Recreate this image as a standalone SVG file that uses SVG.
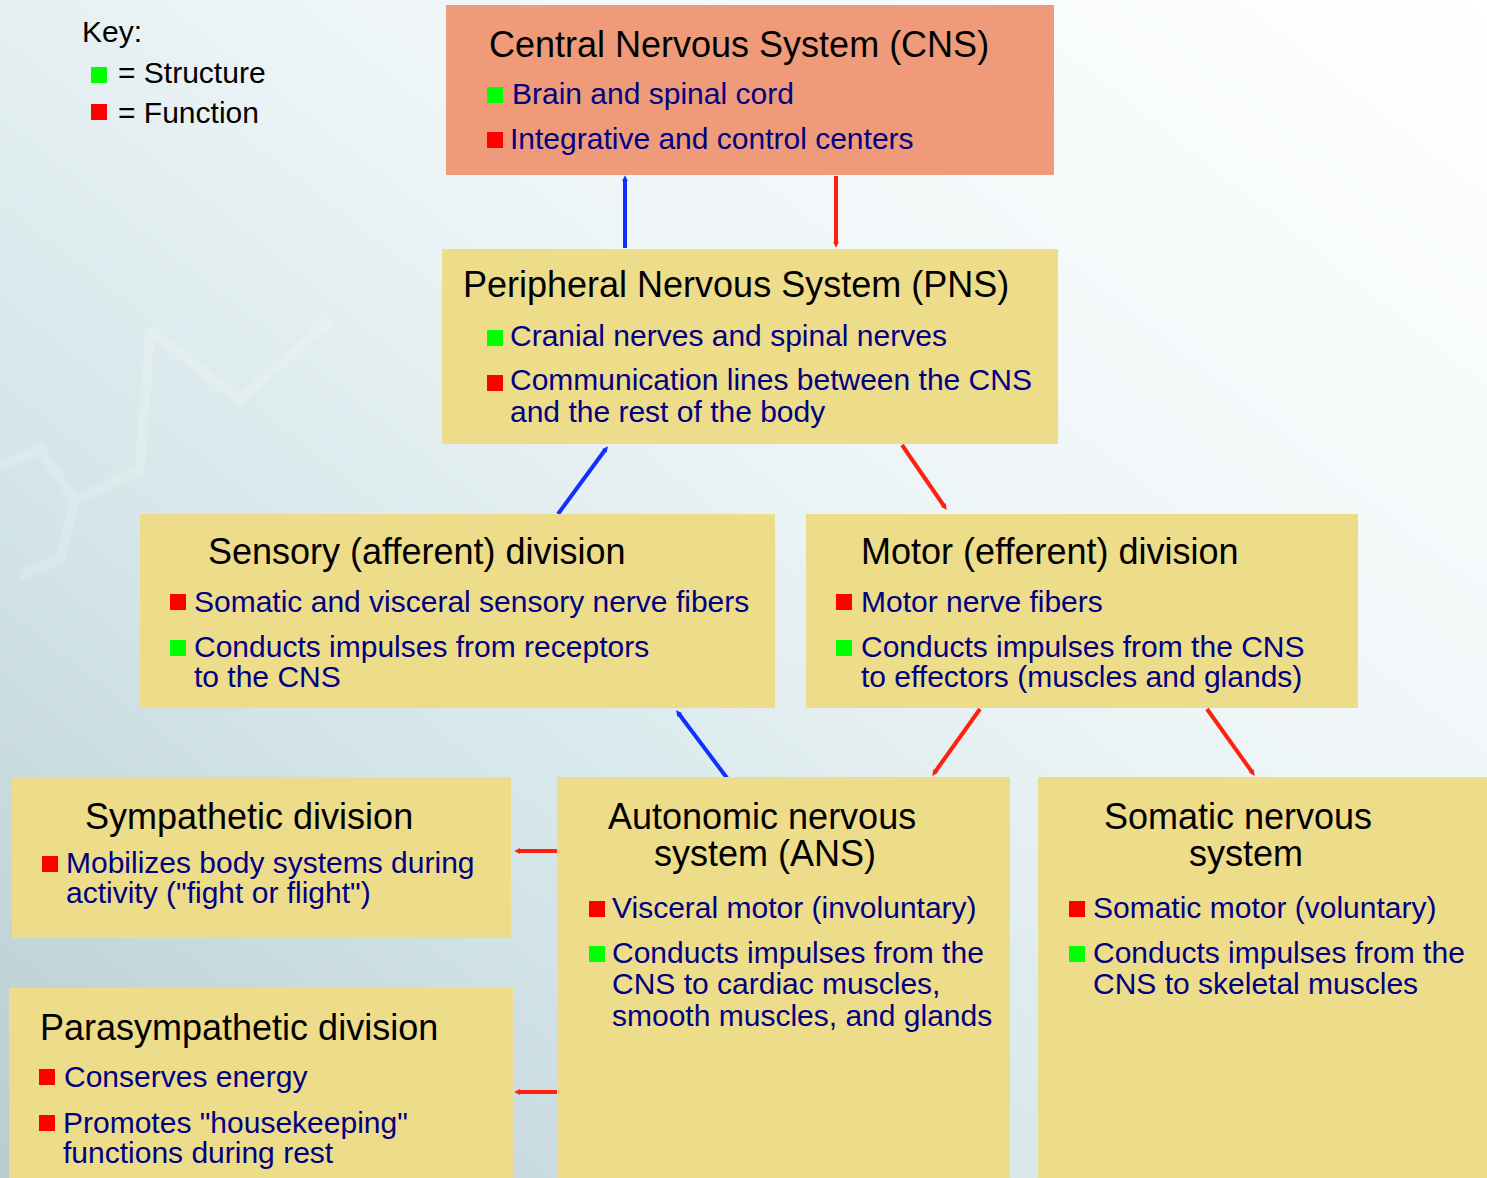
<svg xmlns="http://www.w3.org/2000/svg" width="1487" height="1178" viewBox="0 0 1487 1178">
<defs>
<linearGradient id="bg" x1="0" y1="1" x2="1" y2="0">
<stop offset="0" stop-color="#b9ccd0"/>
<stop offset="0.3" stop-color="#d3e5e8"/>
<stop offset="0.6" stop-color="#eef5f7"/>
<stop offset="1" stop-color="#ffffff"/>
</linearGradient>
<marker id="ab" viewBox="0 0 10 10" refX="2" refY="5" markerWidth="1.5" markerHeight="1.5" orient="auto" markerUnits="strokeWidth">
<path d="M0,0 L10,5 L0,10 z" fill="#1030ff"/>
</marker>
<marker id="ar" viewBox="0 0 10 10" refX="2" refY="5" markerWidth="1.5" markerHeight="1.5" orient="auto" markerUnits="strokeWidth">
<path d="M0,0 L10,5 L0,10 z" fill="#ff2010"/>
</marker>
</defs>
<style>
text{font-family:"Liberation Sans",Arial,sans-serif}
.t{font-size:36px;fill:#000}
.b{font-size:30px;fill:#000080}
.k{font-size:30px;fill:#000}
.box{fill:#eddc8a}
.cns{fill:#ef9b79}
.g{fill:#00ff00}
.r{fill:#ff0000}
.cb{stroke:#1030ff;stroke-width:4;fill:none}
.cr{stroke:#ff2010;stroke-width:4;fill:none}
</style>
<rect x="0" y="0" width="1487" height="1178" fill="url(#bg)"/>
<g opacity="0.18" stroke="#ffffff" stroke-width="10" fill="none">
<path d="M0,465 L40,450 L75,500 L60,560 L20,575"/>
<path d="M75,500 L140,470 L150,330"/>
<path d="M150,330 L240,400 L330,320"/>
</g>

<g id="key">
<text class="k" x="82" y="42">Key:</text>
<rect class="g" x="91" y="67" width="16" height="16"/>
<text class="k" x="118" y="83">= Structure</text>
<rect class="r" x="91" y="104" width="16" height="16"/>
<text class="k" x="118" y="123">= Function</text>
</g>

<g id="connectors">
<line class="cb" x1="625" y1="248" x2="625" y2="180" marker-end="url(#ab)"/>
<line class="cr" x1="836" y1="176" x2="836" y2="243" marker-end="url(#ar)"/>
<line class="cb" x1="558" y1="514" x2="605" y2="450" marker-end="url(#ab)"/>
<line class="cr" x1="902" y1="445" x2="944" y2="506" marker-end="url(#ar)"/>
<line class="cb" x1="727" y1="778" x2="679" y2="714" marker-end="url(#ab)"/>
<line class="cr" x1="980" y1="709" x2="935" y2="772" marker-end="url(#ar)"/>
<line class="cr" x1="1207" y1="709" x2="1252" y2="772" marker-end="url(#ar)"/>
<line class="cr" x1="557" y1="851" x2="519" y2="851" marker-end="url(#ar)"/>
<line class="cr" x1="557" y1="1092" x2="519" y2="1092" marker-end="url(#ar)"/>
</g>

<g id="cns">
<rect class="cns" x="446" y="5" width="608" height="170"/>
<text class="t" x="489" y="57">Central Nervous System (CNS)</text>
<rect class="g" x="487" y="87" width="16" height="16"/>
<text class="b" x="512" y="104">Brain and spinal cord</text>
<rect class="r" x="487" y="132" width="16" height="16"/>
<text class="b" x="510" y="149">Integrative and control centers</text>
</g>

<g id="pns">
<rect class="box" x="442" y="249" width="616" height="195"/>
<text class="t" x="463" y="297">Peripheral Nervous System (PNS)</text>
<rect class="g" x="487" y="330" width="16" height="16"/>
<text class="b" x="510" y="346">Cranial nerves and spinal nerves</text>
<rect class="r" x="487" y="375" width="16" height="16"/>
<text class="b" x="510" y="390">Communication lines between the CNS</text>
<text class="b" x="510" y="422">and the rest of the body</text>
</g>

<g id="sensory">
<rect class="box" x="140" y="514" width="635" height="194"/>
<text class="t" x="208" y="564">Sensory (afferent) division</text>
<rect class="r" x="170" y="594" width="16" height="16"/>
<text class="b" x="194" y="612">Somatic and visceral sensory nerve fibers</text>
<rect class="g" x="170" y="640" width="16" height="16"/>
<text class="b" x="194" y="657">Conducts impulses from receptors</text>
<text class="b" x="194" y="687">to the CNS</text>
</g>

<g id="motor">
<rect class="box" x="806" y="514" width="552" height="194"/>
<text class="t" x="861" y="564">Motor (efferent) division</text>
<rect class="r" x="836" y="594" width="16" height="16"/>
<text class="b" x="861" y="612">Motor nerve fibers</text>
<rect class="g" x="836" y="640" width="16" height="16"/>
<text class="b" x="861" y="657">Conducts impulses from the CNS</text>
<text class="b" x="861" y="687">to effectors (muscles and glands)</text>
</g>

<g id="sympathetic">
<rect class="box" x="12" y="777" width="499" height="161"/>
<text class="t" x="85" y="829">Sympathetic division</text>
<rect class="r" x="42" y="856" width="16" height="16"/>
<text class="b" x="66" y="873">Mobilizes body systems during</text>
<text class="b" x="66" y="903">activity ("fight or flight")</text>
</g>

<g id="parasympathetic">
<rect class="box" x="9" y="988" width="504" height="190"/>
<text class="t" x="40" y="1040">Parasympathetic division</text>
<rect class="r" x="39" y="1069" width="16" height="16"/>
<text class="b" x="64" y="1087">Conserves energy</text>
<rect class="r" x="39" y="1115" width="16" height="16"/>
<text class="b" x="63" y="1133">Promotes "housekeeping"</text>
<text class="b" x="63" y="1163">functions during rest</text>
</g>

<g id="ans">
<rect class="box" x="557" y="777" width="453" height="401"/>
<text class="t" x="608" y="829">Autonomic nervous</text>
<text class="t" x="654" y="866">system (ANS)</text>
<rect class="r" x="589" y="901" width="16" height="16"/>
<text class="b" x="612" y="918">Visceral motor (involuntary)</text>
<rect class="g" x="589" y="946" width="16" height="16"/>
<text class="b" x="612" y="963">Conducts impulses from the</text>
<text class="b" x="612" y="994">CNS to cardiac muscles,</text>
<text class="b" x="612" y="1026">smooth muscles, and glands</text>
</g>

<g id="somatic">
<rect class="box" x="1038" y="777" width="449" height="401"/>
<text class="t" x="1104" y="829">Somatic nervous</text>
<text class="t" x="1189" y="866">system</text>
<rect class="r" x="1069" y="901" width="16" height="16"/>
<text class="b" x="1093" y="918">Somatic motor (voluntary)</text>
<rect class="g" x="1069" y="946" width="16" height="16"/>
<text class="b" x="1093" y="963">Conducts impulses from the</text>
<text class="b" x="1093" y="994">CNS to skeletal muscles</text>
</g>
</svg>
